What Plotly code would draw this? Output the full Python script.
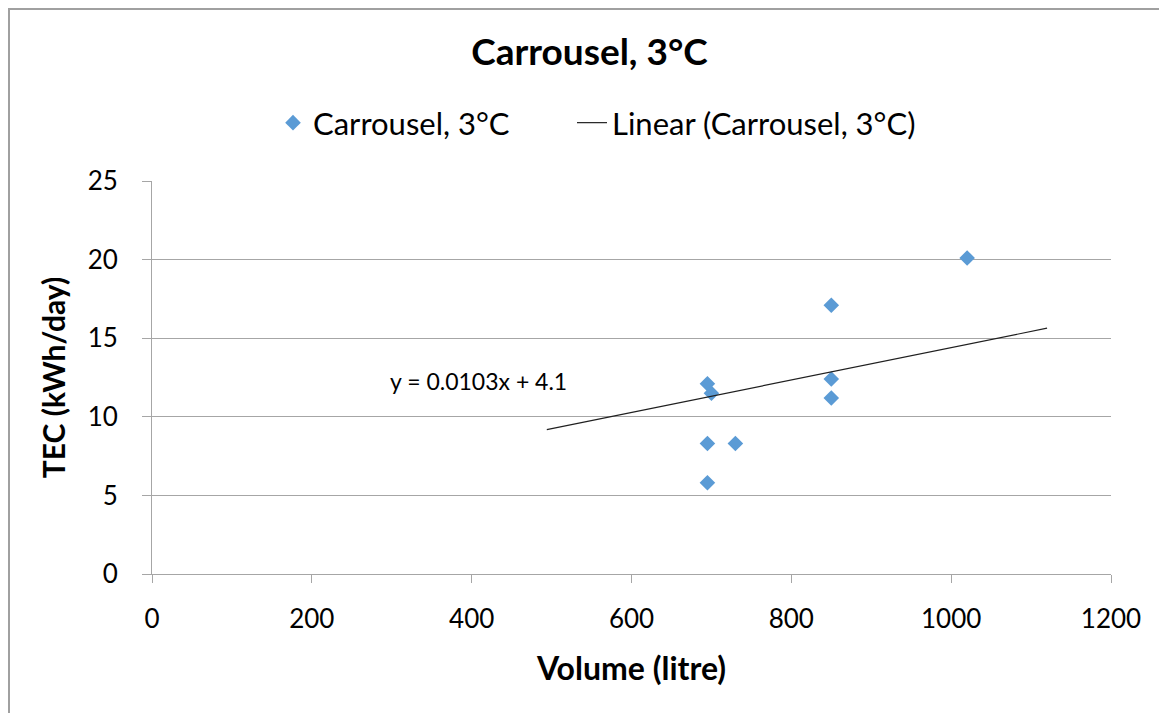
import plotly.graph_objects as go

# Data
volume = [695, 700, 695, 695, 730, 850, 850, 850, 1020]
tec = [12.1, 11.5, 8.3, 5.8, 8.3, 17.1, 12.4, 11.2, 20.1]

# Linear trendline (as displayed), with its drawn extent
slope = 0.0103
intercept = 4.1
trend_x = [494, 1120]
trend_y = [slope * x + intercept for x in trend_x]

x_ticks = [0, 200, 400, 600, 800, 1000, 1200]
y_ticks = [0, 5, 10, 15, 20, 25]

FONT = "Lato, 'Open Sans', sans-serif"

# figure geometry (page has an 8px body offset)
W, H = 1159, 705
L, R, T, B = 144, 56, 173, 139
PW, PH = W - L - R, H - T - B


def px(x):
    return (x - L) / PW


def py(y):
    return (H - B - y) / PH


fig = go.Figure()
fig.add_trace(go.Scatter(
    x=volume, y=tec, mode="markers", name="Carrousel, 3°C",
    marker=dict(symbol="diamond", size=12, color="#5B9BD5"),
    legend="legend",
))
fig.add_trace(go.Scatter(
    x=trend_x, y=trend_y, mode="lines", name="Linear (Carrousel, 3°C)",
    line=dict(color="#202020", width=1.2),
    legend="legend2",
))

legend_common = dict(orientation="h", xref="container", xanchor="left",
                     y=1 - 115 / H, yref="container", yanchor="middle",
                     font=dict(size=31), bgcolor="rgba(0,0,0,0)")

fig.update_layout(
    width=W, height=H,
    margin=dict(l=L, r=R, t=T, b=B),
    paper_bgcolor="white", plot_bgcolor="white",
    font=dict(family=FONT, color="black", size=26),
    title=dict(text="<b>Carrousel, 3°C</b>", x=581.5 / W, xref="container", xanchor="center",
               y=1 - 44 / H, yref="container", yanchor="middle",
               font=dict(size=37, family=FONT)),
    legend=dict(x=265 / W, **legend_common),
    legend2=dict(x=564 / W, **legend_common),
    showlegend=True,
)
fig.update_xaxes(
    range=[0, 1200], tickvals=x_ticks, showgrid=False,
    showline=True, linecolor="#A6A6A6", linewidth=1,
    ticks="outside", ticklen=8, tickcolor="#A6A6A6", ticklabelstandoff=14,
    tickfont=dict(size=26), zeroline=False,
    title=dict(text="<b>Volume (litre)</b>", font=dict(size=32), standoff=24),
)
fig.update_yaxes(
    range=[0, 25], tickvals=y_ticks, showgrid=True, gridcolor="#A6A6A6", gridwidth=1,
    showline=True, linecolor="#A6A6A6", linewidth=1,
    ticks="outside", ticklen=9, tickcolor="#A6A6A6", ticklabelstandoff=19,
    tickfont=dict(size=26), zeroline=False,
    title=dict(text="<b>TEC (kWh/day)</b>", font=dict(size=30), standoff=13),
)

fig.add_annotation(
    text="y = 0.0103x + 4.1", x=px(380), y=py(373), xref="paper", yref="paper",
    xanchor="left", yanchor="middle", showarrow=False, font=dict(size=23),
)

# chart-area border (Excel style)
fig.add_shape(type="rect", xref="paper", yref="paper",
              x0=px(1), x1=px(W + 20), y0=py(H + 20), y1=py(1),
              line=dict(color="#A0A0A0", width=2), layer="below")

fig.write_html("out.html")
